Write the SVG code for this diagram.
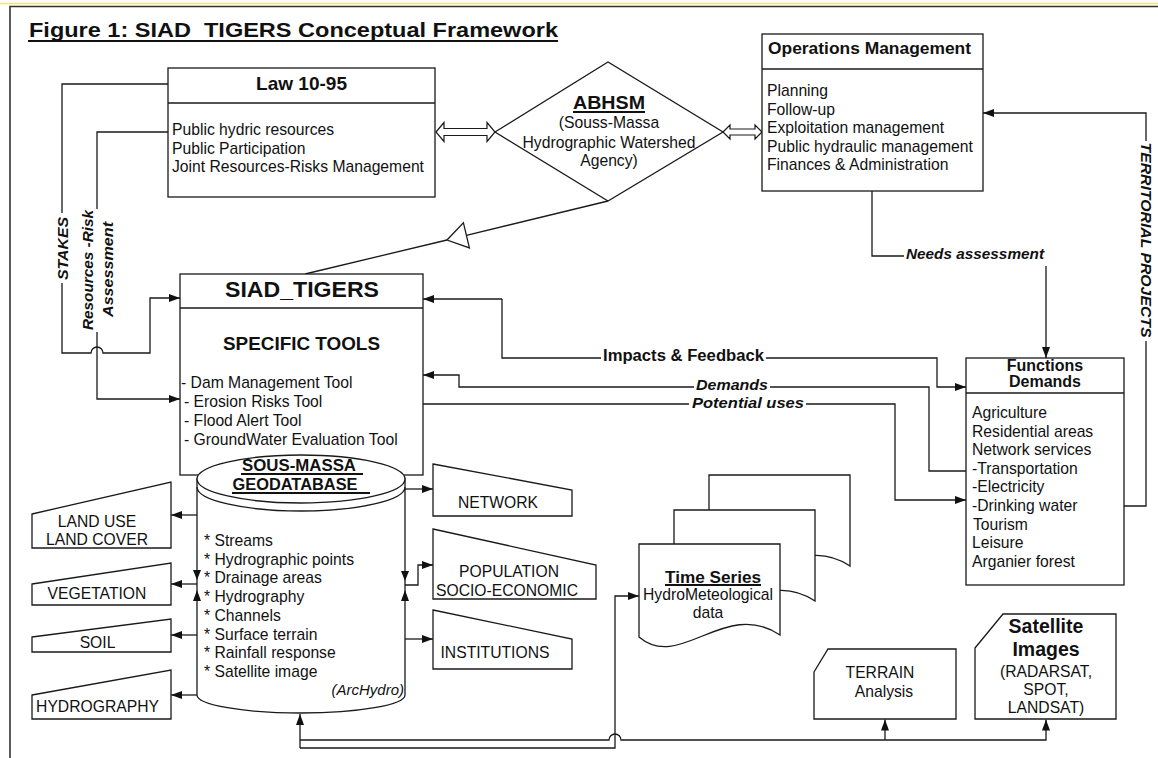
<svg xmlns="http://www.w3.org/2000/svg" width="1158" height="758" viewBox="0 0 1158 758">
<defs>
<marker id="ah" viewBox="0 0 11 8" refX="11" refY="4" markerWidth="11" markerHeight="8" markerUnits="userSpaceOnUse" orient="auto"><path d="M0,0 L11,4 L0,8 Z" fill="#111"/></marker>
<style>
.ln{fill:none;stroke:#1a1a1a;stroke-width:1.3}
.bx{fill:#fff;stroke:#1a1a1a;stroke-width:1.3}
.ul{stroke:#111;stroke-width:1.8}
.t{font-family:"Liberation Sans",Arial,sans-serif;font-size:15.7px;fill:#111}
.b{font-weight:bold}
.bi{font-weight:bold;font-style:italic}
.c{text-anchor:middle}
.wh{fill:#fff}
.ar{fill:#111}
</style>
</defs>
<rect width="1158" height="758" fill="#fff"/>
<line x1="0" y1="3.5" x2="1158" y2="3.5" stroke="#f2ee3a" stroke-width="1.6"/>
<path d="M10,758 V6.5 H1158" fill="none" stroke="#333" stroke-width="1.6"/>

<g id="title">
<text class="t b" x="29" y="37" style="font-size:21px" textLength="529" lengthAdjust="spacingAndGlyphs" xml:space="preserve">Figure 1: SIAD  TIGERS Conceptual Framework</text>
<line class="ul" x1="28" y1="41" x2="558" y2="41"/>
</g>

<g id="connectors">
<path class="ln" d="M168,84 H62 V353 H91 A6,6 0 0 1 103,353 H150 V298 H180" marker-end="url(#ah)"/>
<path class="ln" d="M168,132 H97 V399 H180" marker-end="url(#ah)"/>
<path class="ln" d="M305,274 L447,240"/>
<path class="ln" d="M466.4,235.3 L608,201"/>
<polygon points="447,240 463.4,222.7 469.4,247.9" fill="#fff" stroke="#1a1a1a" stroke-width="1.3"/>
<polygon points="436,132 444,122.5 444,128.5 487,128.5 487,122.5 495,132 487,141.5 487,135.5 444,135.5 444,141.5" fill="#fff" stroke="#1a1a1a" stroke-width="1.2"/>
<polygon points="723,132 730,125 730,129 755,129 755,125 762,132 755,139 755,135 730,135 730,139" fill="#fff" stroke="#1a1a1a" stroke-width="1.2"/>
<path class="ln" d="M872,191 V256 H1046 V358" marker-end="url(#ah)"/>
<path class="ln" d="M1124,506 H1146 V113 H983" marker-end="url(#ah)"/>
<path class="ln" d="M502,299 V358 H937 V387 H966" marker-end="url(#ah)"/>
<path class="ln" d="M502,299 H423" marker-end="url(#ah)"/>
<path class="ln" d="M966,471 H929 V387 H459 V375 H423" marker-end="url(#ah)"/>
<path class="ln" d="M423,404 H895 V500 H966" marker-end="url(#ah)"/>
<path class="ln" d="M197,515 H171" marker-end="url(#ah)"/>
<path class="ln" d="M197,584 H171" marker-end="url(#ah)"/>
<path class="ln" d="M197,635 H171" marker-end="url(#ah)"/>
<path class="ln" d="M197,695 H171" marker-end="url(#ah)"/>
<path class="ln" d="M405,489 H433" marker-end="url(#ah)"/>
<path class="ln" d="M405,585 H418 V565 H433" marker-end="url(#ah)"/>
<path class="ln" d="M405,639 H433" marker-end="url(#ah)"/>
<path class="ln" d="M300,748 V714" marker-end="url(#ah)"/>
<path class="ln" d="M300,748 H615 V596 H639" marker-end="url(#ah)"/>
<path class="ln" d="M300,740 H609 A6,6 0 0 1 621,740 H1046 V719.5" marker-end="url(#ah)"/>
<path class="ln" d="M885,740 V719.5" marker-end="url(#ah)"/>
<rect class="wh" x="54" y="213" width="16" height="70"/>
<rect class="wh" x="79" y="209" width="36" height="123"/>
<rect class="wh" x="1137" y="141" width="17" height="200"/>
<rect class="wh" x="904" y="246" width="143" height="20"/>
<rect class="wh" x="601" y="349" width="165" height="16"/>
<rect class="wh" x="694" y="378" width="76" height="15"/>
<rect class="wh" x="689" y="396" width="117" height="15"/>
<text class="t bi c" transform="translate(67.5,248.5) rotate(-90)" style="font-size:15.5px" textLength="63" lengthAdjust="spacingAndGlyphs">STAKES</text>
<text class="t bi c" transform="translate(92.5,270) rotate(-90)" style="font-size:15.5px" textLength="120" lengthAdjust="spacingAndGlyphs">Resources -Risk</text>
<text class="t bi c" transform="translate(113,269.5) rotate(-90)" style="font-size:15.5px" textLength="95" lengthAdjust="spacingAndGlyphs">Assessment</text>
<text class="t bi c" transform="translate(1140.5,240) rotate(90)" style="font-size:15.5px" textLength="195" lengthAdjust="spacingAndGlyphs">TERRITORIAL PROJECTS</text>
<text class="t bi" x="906" y="259" style="font-size:15.5px" textLength="138" lengthAdjust="spacingAndGlyphs">Needs assessment</text>
<text class="t b c" x="683.5" y="361" style="font-size:16px" textLength="161" lengthAdjust="spacingAndGlyphs">Impacts &amp; Feedback</text>
<text class="t bi c" x="732" y="390" style="font-size:15.5px" textLength="72" lengthAdjust="spacingAndGlyphs">Demands</text>
<text class="t bi c" x="748" y="407.5" style="font-size:15.5px" textLength="112" lengthAdjust="spacingAndGlyphs">Potential uses</text>
</g>

<g id="law">
<rect class="bx" x="168" y="68" width="267" height="129"/>
<line class="ln" x1="168" y1="103" x2="435" y2="103"/>
<text class="t b c" x="301.5" y="90" style="font-size:19px" textLength="91" lengthAdjust="spacingAndGlyphs">Law 10-95</text>
<text class="t" x="172" y="135">Public hydric resources</text>
<text class="t" x="172" y="154">Public Participation</text>
<text class="t" x="172" y="172">Joint Resources-Risks Management</text>
</g>

<g id="abhsm">
<polygon class="bx" points="495,132 608,62 723,132 608,201"/>
<text class="t b c" x="609" y="109" style="font-size:19px" textLength="72" lengthAdjust="spacingAndGlyphs">ABHSM</text>
<line class="ul" x1="573" y1="112" x2="645" y2="112"/>
<text class="t c" x="609" y="128">(Souss-Massa</text>
<text class="t c" x="609" y="148">Hydrographic Watershed</text>
<text class="t c" x="609" y="166">Agency)</text>
</g>

<g id="operations">
<rect class="bx" x="762" y="34" width="221" height="157"/>
<line class="ln" x1="762" y1="69" x2="983" y2="69"/>
<text class="t b" x="768" y="54" style="font-size:17px" textLength="203" lengthAdjust="spacingAndGlyphs">Operations Management</text>
<text class="t" x="767" y="96">Planning</text>
<text class="t" x="767" y="114.5">Follow-up</text>
<text class="t" x="767" y="133">Exploitation management</text>
<text class="t" x="767" y="151.5">Public hydraulic management</text>
<text class="t" x="767" y="170">Finances &amp; Administration</text>
</g>

<g id="siad">
<rect class="bx" x="180" y="274" width="243" height="201"/>
<line class="ln" x1="180" y1="308" x2="423" y2="308"/>
<text class="t b c" x="302" y="297" style="font-size:22.5px" textLength="154" lengthAdjust="spacingAndGlyphs">SIAD_TIGERS</text>
<text class="t b c" x="301.5" y="350" style="font-size:19px" textLength="157" lengthAdjust="spacingAndGlyphs">SPECIFIC TOOLS</text>
<text class="t" x="181" y="388">- Dam Management Tool</text>
<text class="t" x="184" y="407">- Erosion Risks Tool</text>
<text class="t" x="184" y="426">- Flood Alert Tool</text>
<text class="t" x="184" y="445">- GroundWater Evaluation Tool</text>
</g>

<g id="geodatabase">
<path class="bx" d="M197,479 V695 A104,18 0 0 0 405,695 V479 Z"/>
<ellipse class="bx" cx="301" cy="479" rx="104" ry="24"/>
<path class="ln" d="M197,487 A104,24 0 0 0 405,487"/>
<text class="t b c" x="299" y="471" style="font-size:16.5px" textLength="114" lengthAdjust="spacingAndGlyphs">SOUS-MASSA</text>
<line class="ul" x1="241" y1="474" x2="363" y2="474"/>
<text class="t b c" x="295" y="490" style="font-size:16.5px" textLength="125" lengthAdjust="spacingAndGlyphs">GEODATABASE</text>
<line class="ul" x1="232" y1="493" x2="370" y2="493"/>
<text class="t" x="204" y="546">* Streams</text>
<text class="t" x="204" y="564.7">* Hydrographic points</text>
<text class="t" x="204" y="583.4">* Drainage areas</text>
<text class="t" x="204" y="602.1">* Hydrography</text>
<text class="t" x="204" y="620.8">* Channels</text>
<text class="t" x="204" y="639.5">* Surface terrain</text>
<text class="t" x="204" y="658.2">* Rainfall response</text>
<text class="t" x="204" y="676.9">* Satellite image</text>
<text class="t" x="404" y="695" text-anchor="end" style="font-size:15px;font-style:italic">(ArcHydro)</text>
<polygon class="ar" points="193,570 201,570 197,580"/>
<polygon class="ar" points="193,601 201,601 197,590"/>
<polygon class="ar" points="401,571 409,571 405,581"/>
<polygon class="ar" points="401,601 409,601 405,590"/>
</g>

<g id="landuse">
<polygon class="bx" points="32,514 171,482 171,548 32,548"/>
<text class="t c" x="97" y="527">LAND USE</text>
<text class="t c" x="97" y="545">LAND COVER</text>
</g>
<g id="vegetation">
<polygon class="bx" points="32,584 171,563 171,605 32,605"/>
<text class="t c" x="97" y="599">VEGETATION</text>
</g>
<g id="soil">
<polygon class="bx" points="32,637 171,619 171,652 32,652"/>
<text class="t c" x="97.5" y="648">SOIL</text>
</g>
<g id="hydrography">
<polygon class="bx" points="32,695 171,670 171,719 32,719"/>
<text class="t c" x="97.5" y="712">HYDROGRAPHY</text>
</g>

<g id="network">
<polygon class="bx" points="433,464 572,490 572,516 433,516"/>
<text class="t c" x="498" y="508">NETWORK</text>
</g>
<g id="population">
<polygon class="bx" points="433,529 596,565 596,599 433,599"/>
<text class="t c" x="509" y="577">POPULATION</text>
<text class="t c" x="507" y="596">SOCIO-ECONOMIC</text>
</g>
<g id="institutions">
<polygon class="bx" points="433,610 572,639 572,669 433,669"/>
<text class="t c" x="495" y="658">INSTITUTIONS</text>
</g>

<g id="timeseries">
<path class="bx" d="M709,475 H850 V566 C795,529 750,603 709,568 Z"/>
<path class="bx" d="M674,510 H815 V601 C760,564 715,638 674,603 Z"/>
<path class="bx" d="M639,544 H780 V635 C725,598 680,672 639,637 Z"/>
<text class="t b c" x="713" y="583" style="font-size:16px" textLength="96" lengthAdjust="spacingAndGlyphs">Time Series</text>
<line class="ul" x1="665" y1="585" x2="761" y2="585"/>
<text class="t c" x="708" y="600">HydroMeteological</text>
<text class="t c" x="708" y="618">data</text>
</g>

<g id="functions">
<rect class="bx" x="966" y="358" width="158" height="227"/>
<line class="ln" x1="966" y1="393" x2="1124" y2="393"/>
<text class="t b c" x="1045" y="371" style="font-size:16px">Functions</text>
<text class="t b c" x="1045" y="387" style="font-size:16px">Demands</text>
<text class="t" x="972" y="418">Agriculture</text>
<text class="t" x="972" y="436.6">Residential areas</text>
<text class="t" x="972" y="455.2">Network services</text>
<text class="t" x="972" y="473.8">-Transportation</text>
<text class="t" x="972" y="492.4">-Electricity</text>
<text class="t" x="972" y="511">-Drinking water</text>
<text class="t" x="973" y="529.6">Tourism</text>
<text class="t" x="972" y="548.2">Leisure</text>
<text class="t" x="972" y="566.8">Arganier forest</text>
</g>

<g id="terrain">
<polygon class="bx" points="814,672 828,649 956,649 956,719 814,719"/>
<text class="t c" x="880" y="678">TERRAIN</text>
<text class="t c" x="884" y="697">Analysis</text>
</g>

<g id="satellite">
<polygon class="bx" points="975,648 1003,614 1116,614 1116,719 975,719"/>
<text class="t b c" x="1046" y="633" style="font-size:19.5px">Satellite</text>
<text class="t b c" x="1046" y="656" style="font-size:19.5px">Images</text>
<text class="t c" x="1046" y="677">(RADARSAT,</text>
<text class="t c" x="1046" y="695">SPOT,</text>
<text class="t c" x="1046" y="713">LANDSAT)</text>
</g>
</svg>
